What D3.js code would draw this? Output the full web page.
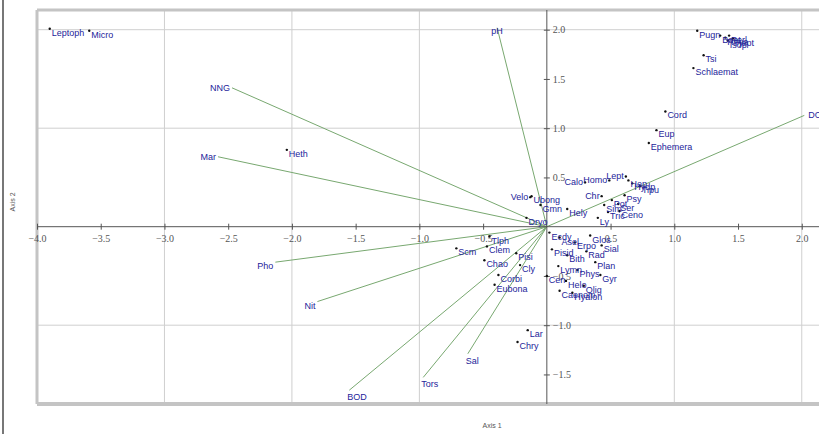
<!DOCTYPE html>
<html lang="en">
<head>
<meta charset="utf-8">
<title>Biplot</title>
<script src="https://d3js.org/d3.v7.min.js"></script>
<style>
  body { margin: 0; background: #fff; }
  .grid line { stroke: #cfcfcf; stroke-width: 1; }
  .axis path, .axis line { stroke: #555; }
  .axis text { font-family: "Liberation Serif", serif; font-size: 10px; fill: #555; }
  .vec { stroke: #78a870; stroke-width: 1; fill: none; }
  .lab { font-family: "Liberation Sans", Arial, sans-serif; font-size: 9px; fill: #24249a; }
  .title { font-family: "Liberation Sans", Arial, sans-serif; font-size: 7px; fill: #555; }
</style>
</head>
<body>
<script>
// environmental vectors (biplot scores)
var vecNames = ["pH", "NNG", "Mar", "Pho", "Nit", "BOD", "Tors", "Sal", "DO"];
var vecX = [-0.39, -2.47, -2.58, -2.13, -1.80, -1.55, -0.97, -0.62, 2.02];
var vecY = [2.02, 1.41, 0.71, -0.36, -0.76, -1.66, -1.53, -1.29, 1.13];

// taxa scores
var ptNames = ["Leptoph", "Micro", "Heth", "Pugn", "Baet", "Rhya", "Perl", "Hept", "Isop",
  "Tsi", "Schlaemat", "Cord", "Eup", "Ephemera", "Lept", "Calo", "Homo", "Hep", "Hydp", "Tipu",
  "Chr", "Velo", "Ubong", "Gmn", "Hely", "Sim", "Pot", "Ser", "Tric", "Ceno", "Ly", "Psy",
  "Tlph", "Clem", "Scm", "Chao", "Pisi", "Corbi", "Eubona", "Cly", "Dryo",
  "Ecdy", "Asel", "Erpo", "Glos", "Pisid", "Bith", "Rad", "Sial", "Lymn", "Phys", "Plan",
  "Cen", "Helo", "Olig", "Caenom", "Hyalon", "Gyr", "Lar", "Chry"];
var ptX = [-3.90, -3.59, -2.04, 1.18, 1.36, 1.40, 1.43, 1.46, 1.42,
  1.23, 1.15, 0.93, 0.86, 0.80, 0.62, 0.30, 0.49, 0.64, 0.67, 0.73,
  0.43, -0.13, -0.12, -0.05, 0.16, 0.45, 0.51, 0.56, 0.48, 0.57, 0.40, 0.61,
  -0.45, -0.47, -0.71, -0.49, -0.24, -0.38, -0.41, -0.21, -0.16,
  0.02, 0.10, 0.22, 0.34, 0.04, 0.16, 0.31, 0.43, 0.09, 0.24, 0.38,
  0.00, 0.15, 0.29, 0.10, 0.20, 0.42, -0.15, -0.23];
var ptY = [2.01, 1.99, 0.78, 1.99, 1.94, 1.92, 1.94, 1.91, 1.89,
  1.74, 1.61, 1.17, 0.98, 0.85, 0.51, 0.45, 0.47, 0.47, 0.44, 0.41,
  0.31, 0.30, 0.31, 0.22, 0.18, 0.22, 0.27, 0.23, 0.15, 0.16, 0.09, 0.32,
  -0.10, -0.20, -0.22, -0.34, -0.27, -0.49, -0.59, -0.39, 0.09,
  -0.06, -0.11, -0.16, -0.09, -0.23, -0.29, -0.25, -0.19, -0.40, -0.44, -0.36,
  -0.50, -0.55, -0.60, -0.65, -0.67, -0.49, -1.05, -1.17];

var xTicks = [-4.0, -3.5, -3.0, -2.5, -2.0, -1.5, -1.0, -0.5, 0.5, 1.0, 1.5, 2.0];
var yTicks = [2.0, 1.5, 1.0, 0.5, -0.5, -1.0, -1.5];
var xGrid = [-3, -2, -1, 1, 2];
var yGrid = [2, 1, -1];

var leftLabels = new Set(["Lept", "Calo", "Homo", "Chr", "Velo"]);

var width = 819, height = 434;
var x = d3.scaleLinear().domain([-4.0, 2.3]).range([37, 840]);
var y = d3.scaleLinear().domain([-1.8, 2.2]).range([404, 10]);

var svg = d3.select("body").append("svg")
  .attr("width", width).attr("height", height);

// outer figure edge
svg.append("line").attr("x1", 3).attr("x2", 3).attr("y1", 0).attr("y2", height)
  .attr("stroke", "#777").attr("stroke-width", 2);

// grid
var grid = svg.append("g").attr("class", "grid");
grid.selectAll(".gx").data(xGrid).enter().append("line")
  .attr("x1", d => x(d)).attr("x2", d => x(d))
  .attr("y1", y(2.2)).attr("y2", y(-1.8));
grid.selectAll(".gy").data(yGrid).enter().append("line")
  .attr("x1", x(-4)).attr("x2", width)
  .attr("y1", d => y(d)).attr("y2", d => y(d));

// frame (heavy grey border)
svg.append("line").attr("x1", x(-4)).attr("x2", width).attr("y1", y(2.2)).attr("y2", y(2.2))
  .attr("stroke", "#c4c4c4").attr("stroke-width", 3);
svg.append("line").attr("x1", x(-4)).attr("x2", width).attr("y1", y(-1.8)).attr("y2", y(-1.8))
  .attr("stroke", "#c4c4c4").attr("stroke-width", 4);
svg.append("line").attr("x1", x(-4)).attr("x2", x(-4)).attr("y1", y(2.2)).attr("y2", y(-1.8))
  .attr("stroke", "#c4c4c4").attr("stroke-width", 3);

// vectors
svg.selectAll(".vec").data(vecNames).enter().append("line")
  .attr("class", "vec")
  .attr("x1", x(0)).attr("y1", y(0))
  .attr("x2", (d, i) => x(vecX[i])).attr("y2", (d, i) => y(vecY[i]));

// axes through origin
var xAxis = svg.append("g").attr("class", "axis")
  .attr("transform", "translate(0," + y(0) + ")")
  .call(d3.axisBottom(x).tickValues(xTicks).tickSize(3).tickFormat(d3.format(".1f")));
xAxis.select(".domain").attr("d", "M" + x(-4) + ",0H" + width);
xAxis.selectAll(".tick line").attr("y1", -3);
xAxis.selectAll(".tick text").attr("y", 8);

var yAxis = svg.append("g").attr("class", "axis")
  .attr("transform", "translate(" + x(0) + ",0)")
  .call(d3.axisRight(y).tickValues(yTicks).tickSize(3).tickFormat(d3.format(".1f")));
yAxis.select(".domain").attr("d", "M0," + y(2.2) + "V" + y(-1.8));
yAxis.selectAll(".tick line").attr("x1", -3);
yAxis.selectAll(".tick text").attr("x", 6);

// taxa points
svg.selectAll(".pt").data(ptNames).enter().append("circle")
  .attr("cx", (d, i) => x(ptX[i])).attr("cy", (d, i) => y(ptY[i]))
  .attr("r", 1.2).attr("fill", "#111");

svg.selectAll(".ptlab").data(ptNames).enter().append("text")
  .attr("class", "lab")
  .attr("x", (d, i) => x(ptX[i]) + (leftLabels.has(d) ? -2 : 2))
  .attr("y", (d, i) => y(ptY[i]) + (leftLabels.has(d) ? 3 : 7))
  .attr("text-anchor", d => leftLabels.has(d) ? "end" : "start")
  .text(d => d);

// vector labels
svg.selectAll(".veclab").data(vecNames).enter().append("text")
  .attr("class", "lab")
  .attr("x", (d, i) => {
    var px = x(vecX[i]);
    if (Math.abs(vecX[i]) < 0.5 && vecY[i] > 0) return px;
    if (vecY[i] < -1) return px - 2;
    return vecX[i] < 0 ? px - 2 : px + 4;
  })
  .attr("y", (d, i) => {
    var py = y(vecY[i]);
    if (Math.abs(vecX[i]) < 0.5 && vecY[i] > 0) return py + 6;
    if (vecY[i] < -1) return py + 10;
    return vecY[i] < 0 ? py + 7 : py + 3;
  })
  .attr("text-anchor", (d, i) => {
    if (Math.abs(vecX[i]) < 0.5 && vecY[i] > 0) return "middle";
    if (vecY[i] < -1) return "start";
    return vecX[i] < 0 ? "end" : "start";
  })
  .text(d => d);

// axis titles
svg.append("text").attr("class", "title")
  .attr("x", 492).attr("y", 428).attr("text-anchor", "middle").text("Axis 1");
svg.append("text").attr("class", "title")
  .attr("transform", "translate(15,202) rotate(-90)")
  .attr("text-anchor", "middle").text("Axis 2");
</script>
</body>
</html>
